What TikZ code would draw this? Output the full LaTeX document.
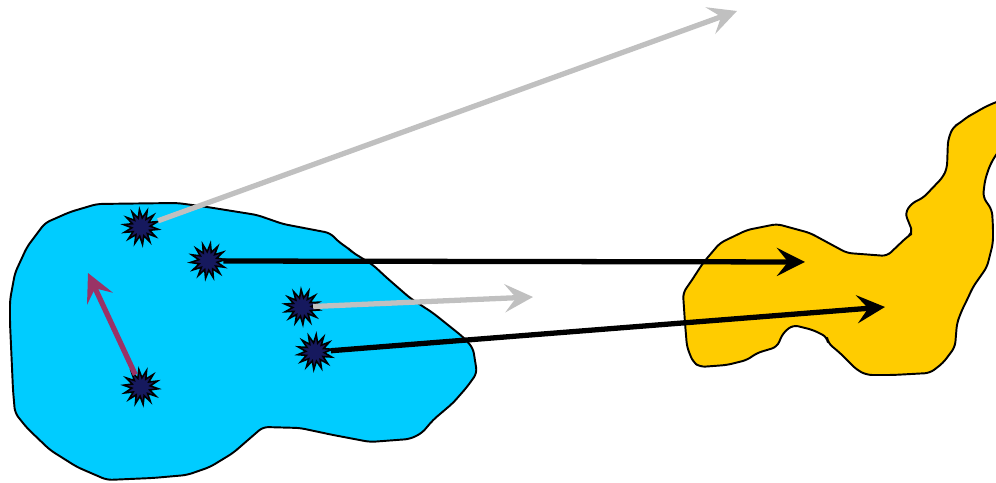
\documentclass[tikz,border=0pt]{standalone}
\usetikzlibrary{shapes.geometric,arrows.meta}
\definecolor{blobblue}{HTML}{00CCFF}
\definecolor{blobyellow}{HTML}{FFCC00}
\definecolor{starnavy}{HTML}{16195E}
\definecolor{arrgrey}{HTML}{C0C0C0}
\definecolor{arrpurple}{HTML}{993366}
\tikzset{
  blob/.style={draw=black, line width=0.55pt, line join=round, rounded corners=1.5pt},
  burst/.style={star, star points=14, star point ratio=1.9, minimum size=0.35cm, inner sep=0pt,
    fill=starnavy, draw=black, line width=0.45pt},
  ray/.style={line width=1.5pt, -{Stealth[length=8pt, width=8pt, inset=3.2pt]}},
}
\begin{document}
\begin{tikzpicture}[x=0.01cm, y=-0.01cm]
\useasboundingbox (0,0) rectangle (996,483);
% blue region
\draw[blob, fill=blobblue] (97,204) -- (177,203) -- (207,207) -- (257,215) -- (283,224) -- (330,233)
  -- (340,243) -- (348,248) -- (352,252) -- (373,265) -- (387,278) -- (410,298) -- (433,313)
  -- (463,337) -- (473,348) -- (477,373) -- (467,387) -- (453,403) -- (433,420) -- (422,433)
  -- (410,439) -- (370,442) -- (333,435) -- (300,428) -- (263,427) -- (233,453) -- (210,467)
  -- (187,475) -- (153,478) -- (107,480) -- (77,467) -- (50,450) -- (27,428) -- (15,413)
  -- (13,390) -- (10,323) -- (10,300) -- (15,273) -- (27,247) -- (45,223) -- (70,212) -- cycle;
% yellow region
\draw[blob, fill=blobyellow] (777,224) -- (810,233) -- (847,253) -- (887,256) -- (907,237) -- (913,233)
  -- (905,213) -- (912,203) -- (923,198) -- (943,177) -- (947,168) -- (948,140) -- (953,127)
  -- (960,123) -- (967,117) -- (973,114) -- (983,108) -- (996,102) -- (1010,98) -- (1010,140)
  -- (997,153) -- (990,165) -- (985,180) -- (983,197) -- (992,210) -- (993,227) -- (993,243)
  -- (987,267) -- (973,287) -- (967,300) -- (962,310) -- (957,323) -- (955,347) -- (943,363)
  -- (930,373) -- (893,375) -- (867,375) -- (857,370) -- (840,353) -- (828,343) -- (827,337)
  -- (813,330) -- (793,325) -- (783,333) -- (777,347) -- (757,353) -- (747,360) -- (727,365)
  -- (700,367) -- (693,362) -- (687,347) -- (685,323) -- (683,293) -- (692,280) -- (703,263)
  -- (720,243) -- (747,230) -- cycle;
% bursts
\node[burst, rotate=5]  (s1) at (141,227) {};
\node[burst, rotate=-8] (s2) at (208,261) {};
\node[burst, rotate=3]  (s3) at (302,307) {};
\node[burst, rotate=-4] (s4) at (315,352) {};
\node[burst, rotate=7]  (s5) at (141,387) {};
% arrow ends
\coordinate (t1) at (737,11);
\coordinate (t2) at (805,262);
\coordinate (t3) at (533,297);
\coordinate (t4) at (885,307);
\coordinate (t5) at (88,273);
\draw[ray, arrgrey] (s1) -- (t1);
\draw[ray, black] (s2) -- (t2);
\draw[ray, arrgrey] (s3) -- (t3);
\draw[ray, black] (s4) -- (t4);
\draw[ray, arrpurple] (s5) -- (t5);
\end{tikzpicture}
\end{document}
